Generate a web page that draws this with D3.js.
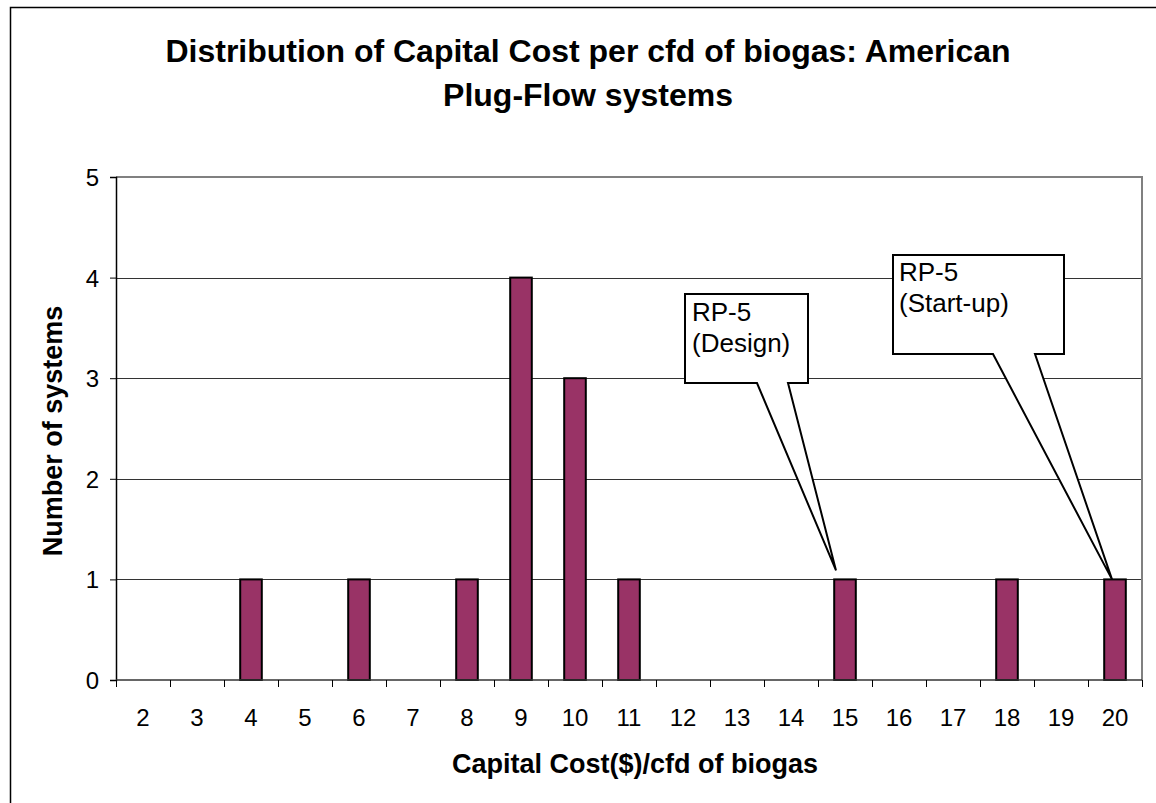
<!DOCTYPE html>
<html>
<head>
<meta charset="utf-8">
<script src="https://cdn.jsdelivr.net/npm/d3@7"></script>
<style>
  html, body { margin: 0; padding: 0; background: #fff; }
  svg { display: block; font-family: "Liberation Sans", Arial, sans-serif; }
</style>
</head>
<body>
<svg id="chart" width="1156" height="803"></svg>
<script>
// Capital cost per cfd of biogas (categories) and number of systems in each
const costs = [2, 3, 4, 5, 6, 7, 8, 9, 10, 11, 12, 13, 14, 15, 16, 17, 18, 19, 20];
const systems = [0, 0, 1, 0, 1, 0, 1, 4, 3, 1, 0, 0, 0, 1, 0, 0, 1, 0, 1];
const yTicks = [0, 1, 2, 3, 4, 5];
const titleLines = ["Distribution of Capital Cost per cfd of biogas: American", "Plug-Flow systems"];
const xTitle = "Capital Cost($)/cfd of biogas";
const yTitle = "Number of systems";
// Callouts: the cost category they point at, and their text lines
const callouts = [
  { cost: 15, value: 1, lines: ["RP-5", "(Design)"] },
  { cost: 20, value: 1, lines: ["RP-5", "(Start-up)"] }
];

const svg = d3.select("#chart");
const plot = { left: 116, right: 1142, top: 177, bottom: 680 };

const x = d3.scaleBand().domain(costs).range([plot.left, plot.right]).paddingInner(0).paddingOuter(0);
const y = d3.scaleLinear().domain([0, 5]).range([plot.bottom, plot.top]);

// outer chart frame
svg.append("rect")
  .attr("x", 10.5).attr("y", 7.5).attr("width", 1160).attr("height", 810)
  .attr("fill", "#fff").attr("stroke", "#000").attr("stroke-width", 1.5);

// title, two centred lines
const title = svg.append("text")
  .attr("text-anchor", "middle")
  .attr("font-size", 32).attr("font-weight", "bold");
title.selectAll("tspan").data(titleLines).join("tspan")
  .attr("x", 588).attr("y", (d, i) => 62 + i * 44)
  .text(d => d);

// gridlines
svg.append("g").selectAll("line").data(yTicks.filter(t => t > 0 && t < 5)).join("line")
  .attr("x1", plot.left).attr("x2", plot.right)
  .attr("y1", d => Math.round(y(d)) + 0.5).attr("y2", d => Math.round(y(d)) + 0.5)
  .attr("stroke", "#333").attr("stroke-width", 1);

// plot area top/right border
svg.append("path")
  .attr("d", `M${plot.left},${plot.top}H${plot.right}V${plot.bottom}`)
  .attr("fill", "none").attr("stroke", "#808080").attr("stroke-width", 2);

// bars
const barW = x.bandwidth() / 2.5;
svg.append("g").selectAll("rect").data(costs.map((c, i) => ({ c, v: systems[i] })).filter(d => d.v > 0)).join("rect")
  .attr("x", d => x(d.c) + (x.bandwidth() - barW) / 2)
  .attr("y", d => y(d.v))
  .attr("width", barW)
  .attr("height", d => y(0) - y(d.v))
  .attr("fill", "#993366").attr("stroke", "#000").attr("stroke-width", 2);

// y axis
const yAxis = d3.axisLeft(y).tickValues(yTicks).tickSize(6).tickPadding(11).tickFormat(d3.format("d"));
const gy = svg.append("g").attr("transform", `translate(${plot.left},0)`).call(yAxis);
gy.attr("font-size", 24).attr("font-family", "Liberation Sans, Arial, sans-serif");
gy.select(".domain").attr("stroke", "#000").attr("stroke-width", 1.5);
gy.selectAll(".tick line").attr("stroke", "#000");
gy.selectAll(".tick text").attr("fill", "#000").attr("dy", "0.35em");

// x axis: ticks at category boundaries, labels in the middle
const gx = svg.append("g").attr("transform", `translate(0,${plot.bottom})`);
gx.append("line").attr("x1", plot.left).attr("x2", plot.right).attr("y1", 0).attr("y2", 0)
  .attr("stroke", "#333").attr("stroke-width", 1.5);
const bounds = costs.map(c => x(c)).concat([x(costs[costs.length - 1]) + x.bandwidth()]);
gx.selectAll("line.tk").data(bounds).join("line").attr("class", "tk")
  .attr("x1", d => Math.round(d) + 0.5).attr("x2", d => Math.round(d) + 0.5)
  .attr("y1", 0).attr("y2", 7).attr("stroke", "#000");
gx.selectAll("text").data(costs).join("text")
  .attr("x", d => x(d) + x.bandwidth() / 2).attr("y", 46)
  .attr("text-anchor", "middle").attr("font-size", 24)
  .text(d => d);

// axis titles
svg.append("text").attr("x", 635).attr("y", 773).attr("text-anchor", "middle")
  .attr("font-size", 27).attr("font-weight", "bold").text(xTitle);
svg.append("text").attr("transform", "translate(62,431) rotate(-90)").attr("text-anchor", "middle")
  .attr("font-size", 27).attr("font-weight", "bold").text(yTitle);

// callout boxes with pointers to the marked bars
const boxes = [
  { x0: 685, y0: 294, x1: 808, y1: 383, b0: 757, b1: 788, tipDx: -9, tipDy: -9, tx: 692, ty: 321 },
  { x0: 893, y0: 255, x1: 1064, y1: 354, b0: 993, b1: 1035, tipDx: -3, tipDy: 0, tx: 899, ty: 281 }
];
callouts.forEach((c, i) => {
  const b = boxes[i];
  const tipX = x(c.cost) + x.bandwidth() / 2 + b.tipDx;
  const tipY = y(c.value) + b.tipDy;
  const d = `M${b.x0},${b.y0}H${b.x1}V${b.y1}H${b.b1}L${tipX},${tipY}L${b.b0},${b.y1}H${b.x0}Z`;
  svg.append("path").attr("d", d).attr("fill", "#fff").attr("stroke", "#000")
    .attr("stroke-width", 2).attr("stroke-linejoin", "miter");
  svg.append("text").attr("font-size", 26)
    .selectAll("tspan").data(c.lines).join("tspan")
    .attr("x", b.tx).attr("y", (d, j) => b.ty + j * 31).text(d => d);
});
</script>
</body>
</html>
